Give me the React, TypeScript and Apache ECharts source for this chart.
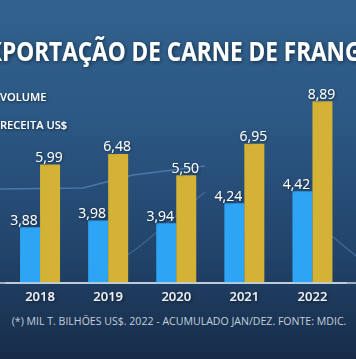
import React, { useEffect, useRef } from "react";
import * as echarts from "echarts";

const years = ["2018", "2019", "2020", "2021", "2022"];
const volume = [3.88, 3.98, 3.94, 4.24, 4.42];
const receita = [5.99, 6.48, 5.5, 6.95, 8.89];
const seriesNames = ["VOLUME", "RECEITA US$"];
const titleText = "EXPORTAÇÃO DE CARNE DE FRANGO";
const footnote = "(*) MIL T. BILHÕES US$. 2022 - ACUMULADO JAN/DEZ. FONTE: MDIC.";

const W = 356;
const H = 359;

function measure(text: string, font: string): number {
  const ctx = document.createElement("canvas").getContext("2d");
  if (!ctx) return text.length * 10;
  ctx.font = font;
  return ctx.measureText(text).width;
}

const fmt = (v: number) => v.toFixed(2).replace(".", ",");

export default function App() {
  const ref = useRef<HTMLDivElement>(null);

  useEffect(() => {
    if (!ref.current) return;
    const chart = echarts.init(ref.current, undefined, { renderer: "svg" });

    const titleFont = "bold 26px 'Open Sans'";
    const visible = "PORTAÇÃO DE CARNE DE FRAN";
    const tScale = 343 / measure(visible, titleFont);
    const exW = measure("EX", titleFont) * tScale;
    const titleX = 2 - exW;

    const footFont = "10px 'Open Sans'";
    const fScale = 335 / measure(footnote, footFont);

    const legendFont = "600 11.5px 'Open Sans'";
    const lScale = 46.5 / measure(seriesNames[0], legendFont);

    const shadow = {
      textShadowColor: "rgba(0,0,0,0.55)",
      textShadowBlur: 3,
      textShadowOffsetX: 1,
      textShadowOffsetY: 1,
    };

    const option: any = {
      animation: false,
      backgroundColor: {
        type: "linear",
        x: 0,
        y: 0,
        x2: 0,
        y2: 1,
        colorStops: [
          { offset: 0, color: "#31628f" },
          { offset: 0.35, color: "#2b5783" },
          { offset: 0.7, color: "#22446b" },
          { offset: 1, color: "#172c48" },
        ],
      },
      grid: { left: 6, right: 9.5, top: 83, bottom: 76, containLabel: false },
      xAxis: {
        type: "category",
        data: years,
        axisLine: { show: true, lineStyle: { color: "#c9d6e2", width: 1.5 } },
        axisTick: { show: false },
        axisLabel: {
          margin: 6,
          color: "#f2f4f6",
          fontFamily: "'Open Sans'",
          fontWeight: 600,
          fontSize: 13,
          ...shadow,
        },
      },
      yAxis: [
        { type: "value", min: 3.04, max: 6.05, show: false },
        { type: "value", min: 0.56, max: 9.73, show: false },
      ],
      series: [
        {
          name: seriesNames[0],
          type: "bar",
          yAxisIndex: 0,
          data: volume,
          barWidth: 20,
          barGap: "0%",
          itemStyle: { color: "#2ea4f4" },
          label: {
            show: true,
            position: "top",
            distance: 1,
            offset: [-6, 0],
            formatter: (p: any) => fmt(p.value),
            color: "#ffffff",
            fontFamily: "'Open Sans'",
            fontSize: 14,
            ...shadow,
          },
        },
        {
          name: seriesNames[1],
          type: "bar",
          yAxisIndex: 1,
          data: receita,
          barWidth: 20,
          barGap: "0%",
          itemStyle: { color: "#d4b236" },
          label: {
            show: true,
            position: "top",
            distance: 1,
            offset: [-1, 0],
            formatter: (p: any) => fmt(p.value),
            color: "#ffffff",
            fontFamily: "'Open Sans'",
            fontSize: 14,
            ...shadow,
          },
        },
      ],
      graphic: [
        {
          type: "polyline",
          z: 0,
          silent: true,
          shape: { points: [[0, 189], [83, 188], [133, 175], [205, 166]] },
          style: { stroke: "rgba(140,200,255,0.35)", lineWidth: 1.5, fill: null },
        },
        {
          type: "polyline",
          z: 0,
          silent: true,
          shape: { points: [[100, 275], [140, 246], [205, 192]] },
          style: { stroke: "rgba(140,200,255,0.25)", lineWidth: 1.2, fill: null },
        },
        {
          type: "polyline",
          z: 0,
          silent: true,
          shape: { points: [[332, 236], [356, 256]] },
          style: { stroke: "rgba(140,200,255,0.3)", lineWidth: 1.2, fill: null },
        },
        {
          type: "line",
          z: 3,
          silent: true,
          shape: { x1: 0, y1: 283, x2: W, y2: 283 },
          style: { stroke: "#c9d6e2", lineWidth: 1.5 },
        },
        {
          type: "text",
          z: 10,
          x: titleX,
          y: 51,
          scaleX: tScale,
          style: {
            text: titleText,
            font: titleFont,
            fill: "#ffffff",
            textAlign: "left",
            textVerticalAlign: "middle",
            ...shadow,
            textShadowBlur: 4,
          },
        },
        {
          type: "text",
          z: 10,
          x: 0,
          y: 96,
          scaleX: lScale,
          style: {
            text: seriesNames[0],
            font: legendFont,
            fill: "#ffffff",
            textAlign: "left",
            textVerticalAlign: "middle",
            ...shadow,
          },
        },
        {
          type: "text",
          z: 10,
          x: 0,
          y: 124,
          scaleX: lScale,
          style: {
            text: seriesNames[1],
            font: legendFont,
            fill: "#ffffff",
            textAlign: "left",
            textVerticalAlign: "middle",
            ...shadow,
          },
        },
        {
          type: "text",
          z: 10,
          x: 11.7,
          y: 321,
          scaleX: fScale,
          style: {
            text: footnote,
            font: footFont,
            fill: "#c3cfdc",
            textAlign: "left",
            textVerticalAlign: "middle",
          },
        },
      ],
    };

    chart.setOption(option);
    return () => chart.dispose();
  }, []);

  return (
    <div
      ref={ref}
      style={{ position: "fixed", left: 0, top: 0, width: W, height: H }}
    />
  );
}
